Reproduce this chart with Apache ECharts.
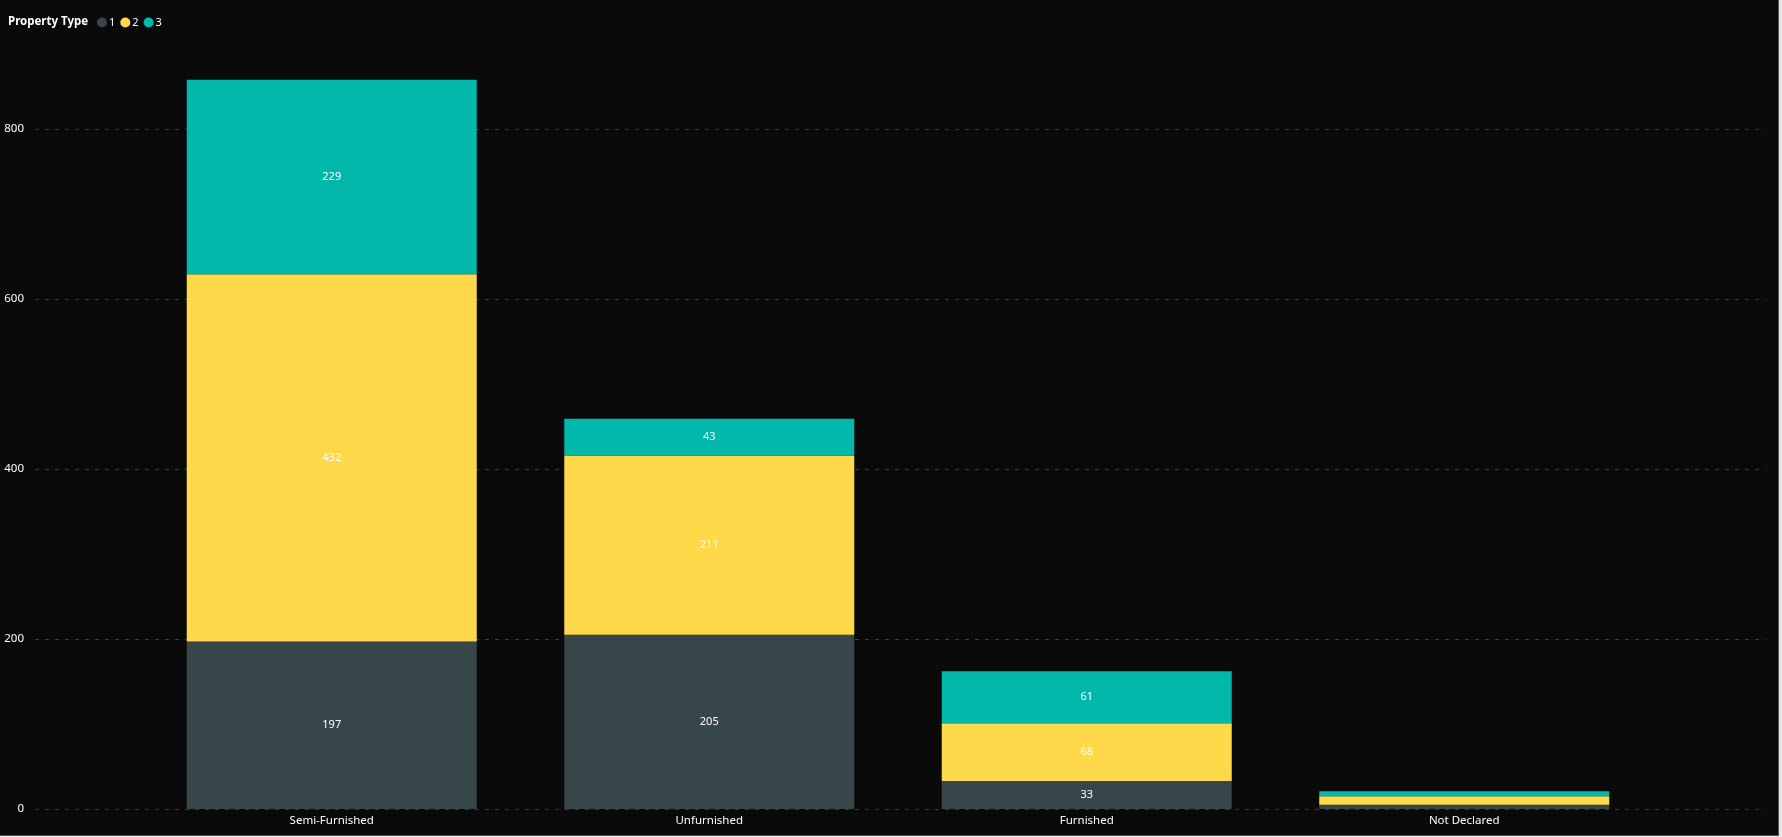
<!DOCTYPE html>
<html>
<head>
<meta charset="utf-8">
<script src="https://cdn.jsdelivr.net/npm/echarts@6/dist/echarts.min.js"></script>
<style>
  html, body { margin: 0; padding: 0; background: #e6e6e6; }
  #chart { width: 1778px; height: 835px; background: #0a0a0a; border-right: 1px solid #555; border-bottom: 1px solid #555; }
</style>
</head>
<body>
<div id="chart"></div>
<script>
const categories = ['Semi-Furnished', 'Unfurnished', 'Furnished', 'Not Declared'];
const seriesNames = ['1', '2', '3'];
const type1 = [197, 205, 33, 5];
const type2 = [432, 211, 68, 10];
const type3 = [229, 43, 61, 6];
const yTicks = [0, 200, 400, 600, 800];

const colors = ['#374649', '#FFD94A', '#01B8AA'];
const FONT = 'Noto Sans';
const yMax = 900;

const chart = echarts.init(document.getElementById('chart'));

function mkSeries(name, data, color) {
  return {
    name: name,
    type: 'bar',
    stack: 'total',
    xAxisIndex: 1,
    yAxisIndex: 1,
    barWidth: 290,
    data: data,
    itemStyle: { color: color },
    label: {
      show: true,
      position: 'inside',
      color: '#ffffff',
      fontFamily: FONT,
      fontSize: 11,
      formatter: p => (p.value >= 20 ? String(p.value) : '')
    }
  };
}

chart.setOption({
  backgroundColor: '#0a0a0a',
  animation: false,
  textStyle: { fontFamily: FONT },
  title: {
    text: 'Property Type',
    left: 3,
    top: 11,
    textStyle: { color: '#ffffff', fontSize: 11.5, fontWeight: 'bold', fontFamily: FONT }
  },
  legend: {
    left: 92,
    top: 12,
    icon: 'circle',
    itemWidth: 10,
    itemHeight: 10,
    itemGap: 5,
    textStyle: { color: '#ffffff', fontSize: 11, fontFamily: FONT, padding: [0, 0, 0, -3] },
    data: seriesNames
  },
  grid: [
    { left: 35, right: 12, top: 44, bottom: 26 },
    { left: 143, right: 125, top: 44, bottom: 26 }
  ],
  xAxis: [
    { type: 'category', gridIndex: 0, data: categories, show: false },
    {
      type: 'category', gridIndex: 1, data: categories,
      axisLine: { show: false }, axisTick: { show: false },
      axisLabel: { color: '#ffffff', fontSize: 11.5, fontFamily: FONT, margin: 6 }
    }
  ],
  yAxis: [
    {
      type: 'value', gridIndex: 0, min: 0, max: yMax, interval: 200,
      axisLine: { show: false }, axisTick: { show: false },
      axisLabel: {
        color: '#ffffff', fontSize: 11.5, fontFamily: FONT, margin: 11, showMaxLabel: false,
        formatter: v => (yTicks.indexOf(v) >= 0 ? String(v) : '')
      },
      splitLine: { show: true, showMaxLine: false, lineStyle: { color: '#3c3c3c', type: [4, 6], width: 1 } }
    },
    {
      type: 'value', gridIndex: 1, min: 0, max: yMax, interval: 200, show: false,
      splitLine: { show: false }
    }
  ],
  series: [
    mkSeries(seriesNames[0], type1, colors[0]),
    mkSeries(seriesNames[1], type2, colors[1]),
    mkSeries(seriesNames[2], type3, colors[2])
  ]
});
</script>
</body>
</html>
